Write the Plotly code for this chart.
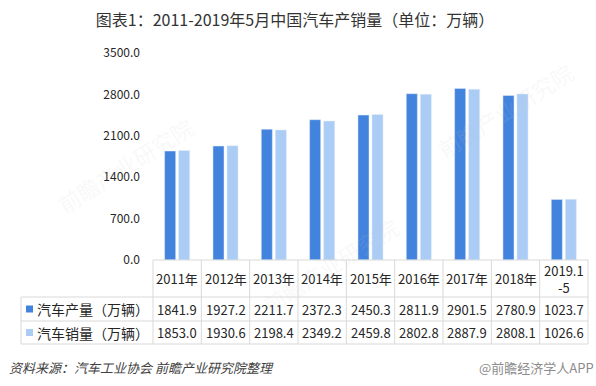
import plotly.graph_objects as go

categories = ["2011年", "2012年", "2013年", "2014年", "2015年", "2016年", "2017年", "2018年", "2019.1<br>-5"]
production = [1841.9, 1927.2, 2211.7, 2372.3, 2450.3, 2811.9, 2901.5, 2780.9, 1023.7]
sales = [1853.0, 1930.6, 2198.4, 2349.2, 2459.8, 2802.8, 2887.9, 2808.1, 1026.6]
series_names = ["汽车产量（万辆）", "汽车销量（万辆）"]
y_ticks = [0, 700, 1400, 2100, 2800, 3500]

C1 = "#4283DE"
C2 = "#ABCCF5"
FONT = "Noto Sans CJK SC"
GRID = "#D9D9D9"
TXT = "#262626"

W, H = 596, 386
ML, MR, MT, MB = 153, 8, 53, 126
PW = W - ML - MR
PH = H - MT - MB

def px(x):
    return (x - ML) / PW

def py(y):
    return ((H - MB) - y) / PH

fig = go.Figure()
fig.add_trace(go.Bar(x=categories, y=production, name=series_names[0], marker_color=C1, showlegend=False))
fig.add_trace(go.Bar(x=categories, y=sales, name=series_names[1], marker_color=C2, showlegend=False))

shapes = []
annotations = []
n = len(categories)
col_w = PW / n
row_top, row1, row2, row_bot = 260, 297, 321, 344
left_x = 21
right_x = ML + PW

def hline(y, x0, x1):
    shapes.append(dict(type="line", xref="paper", yref="paper", x0=px(x0), x1=px(x1), y0=py(y), y1=py(y),
                       line=dict(color=GRID, width=1)))

def vline(x, y0, y1):
    shapes.append(dict(type="line", xref="paper", yref="paper", x0=px(x), x1=px(x), y0=py(y0), y1=py(y1),
                       line=dict(color=GRID, width=1)))

hline(row_top, ML, right_x)
hline(row1, left_x, right_x)
hline(row2, left_x, right_x)
hline(row_bot, left_x, right_x)
for k in range(n + 1):
    vline(ML + k * col_w, row_top, row_bot)
vline(left_x, row1, row_bot)

for i, c in enumerate(categories):
    for text, yc in [(c, (row_top + row1) / 2),
                     (f"{production[i]:.1f}", (row1 + row2) / 2),
                     (f"{sales[i]:.1f}", (row2 + row_bot) / 2)]:
        annotations.append(dict(x=c, xref="x", y=py(yc), yref="paper", text=text,
                                showarrow=False, font=dict(size=13, color=TXT, family=FONT),
                                xanchor="center", yanchor="middle"))

for (ya, yb), name, col in [((row1, row2), series_names[0], C1), ((row2, row_bot), series_names[1], C2)]:
    yc = (ya + yb) / 2
    shapes.append(dict(type="rect", xref="paper", yref="paper", x0=px(26), x1=px(33), y0=py(yc + 3.5), y1=py(yc - 3.5),
                       fillcolor=col, line=dict(width=0)))
    annotations.append(dict(x=px(35), xref="paper", y=py(yc), yref="paper", text=name, showarrow=False,
                            font=dict(size=14, color=TXT, family=FONT), xanchor="left", yanchor="middle"))

annotations.append(dict(x=px(7), xref="paper", y=py(367), yref="paper", text="<i>资料来源：汽车工业协会 前瞻产业研究院整理</i>",
                        showarrow=False, font=dict(size=13, color="#404040", family=FONT), xanchor="left", yanchor="middle"))
annotations.append(dict(x=px(596), xref="paper", y=py(367), yref="paper", text="@前瞻经济学人APP",
                        showarrow=False, font=dict(size=13, color="#8c8c8c", family=FONT), xanchor="right", yanchor="middle"))
for (wx, wy) in [(125, 165), (505, 110), (330, 265)]:
    annotations.append(dict(x=px(wx), xref="paper", y=py(wy), yref="paper", text="前瞻产业研究院",
                            showarrow=False, textangle=-32, font=dict(size=22, color="rgba(200,200,200,0.13)", family=FONT),
                            xanchor="center", yanchor="middle"))

fig.update_layout(
    width=W, height=H,
    margin=dict(l=ML, r=MR, t=MT, b=MB),
    paper_bgcolor="white", plot_bgcolor="white",
    title=dict(text="图表1：2011-2019年5月中国汽车产销量（单位：万辆）", x=295 / W, xanchor="center",
               y=1 - 20 / H, yanchor="middle", font=dict(size=16, color="#333333", family=FONT)),
    barmode="group", bargap=0.42, bargroupgap=0.21,
    xaxis=dict(showticklabels=False, showgrid=False, zeroline=False, showline=False, ticks="",
               range=[-0.5, n - 0.5]),
    yaxis=dict(range=[0, 3500], tickvals=y_ticks, tickformat=".1f", showgrid=False, zeroline=False,
               showline=False, ticks="", ticklabelstandoff=12,
               tickfont=dict(size=12, color=TXT, family=FONT)),
    shapes=shapes, annotations=annotations,
)

fig.write_html("out.html", config={"displayModeBar": False},
               post_script="document.body.style.margin='0';document.body.style.padding='0';document.body.style.overflow='hidden';")
